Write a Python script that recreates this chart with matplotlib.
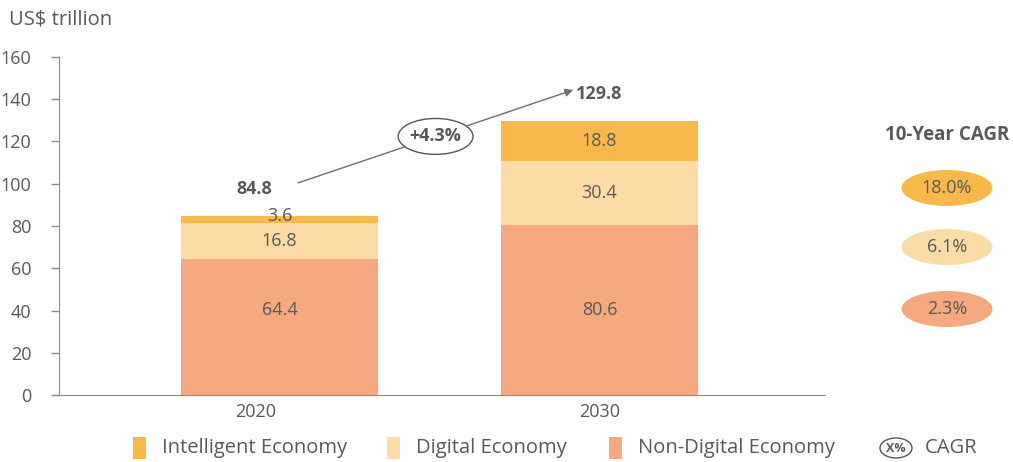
import numpy as np
import matplotlib
matplotlib.use("Agg")
import matplotlib.pyplot as plt
from matplotlib.patches import Ellipse, Rectangle

plt.rcParams['font.family'] = ['Open Sans', 'DejaVu Sans']

# data
years = ["2020", "2030"]
non_digital = [64.4, 80.6]
digital = [16.8, 30.4]
intelligent = [3.6, 18.8]
series_names = ["Intelligent Economy", "Digital Economy", "Non-Digital Economy"]
cagr_labels = ["18.0%", "6.1%", "2.3%"]
total_cagr = "+4.3%"

c_int = "#F9B84A"
c_dig = "#FCDCA6"
c_non = "#F6A97E"
txt = "#595959"
axc = "#8C8C99"

W, H = 1013, 462
fig = plt.figure(figsize=(W / 100, H / 100), dpi=100)
ax = fig.add_axes([59 / W, 1 - 395 / H, (825 - 59) / W, (395 - 57) / H])

x = np.arange(len(years))
bw = 0.615
ax.bar(x, non_digital, bw, color=c_non)
ax.bar(x, digital, bw, bottom=non_digital, color=c_dig)
bot2 = np.array(non_digital) + np.array(digital)
ax.bar(x, intelligent, bw, bottom=bot2, color=c_int)
totals = bot2 + np.array(intelligent)

ax.set_xlim(-0.689, 1.705)
ax.set_ylim(0, 160)
ax.set_yticks(range(0, 161, 20))
ax.set_xticks([-0.073, 1])
ax.set_xticklabels(years)
ax.tick_params(axis='y', colors=axc, labelcolor=txt, labelsize=13, length=6, width=1, pad=14)
ax.tick_params(axis='x', length=0, labelcolor=txt, labelsize=13, pad=6)
for s in ['top', 'right']:
    ax.spines[s].set_visible(False)
ax.spines['left'].set_color(axc)
ax.spines['bottom'].set_color(axc)
ax.spines['bottom'].set_bounds(-0.704, 1.705)

# segment labels
for i in range(2):
    ax.text(x[i], max(non_digital) / 2, f"{non_digital[i]}", ha='center', va='center', color=txt, fontsize=13)
    ax.text(x[i], non_digital[i] + digital[i] / 2, f"{digital[i]}", ha='center', va='center', color=txt, fontsize=13)
    yi = bot2[i] + intelligent[i] / 2
    if intelligent[i] < 8:
        yi += 1.5
    ax.text(x[i], yi, f"{intelligent[i]}", ha='center', va='center', color=txt, fontsize=13)

# totals + CAGR arrow
ax.text(x[0] - 0.08, totals[0] + 12.5, f"{totals[0]:.1f}", ha='center', va='center',
        color=txt, fontsize=13, fontweight='bold')
ax.text(x[1] - 0.072, totals[1] + 12.5, f"{totals[1]:.1f}", ha='left', va='center',
        color=txt, fontsize=13, fontweight='bold')
x0, y0 = x[0] + 0.058, totals[0] + 15.6
x1, y1 = x[1] - 0.082, totals[1] + 14.6
ax.annotate("", xy=(x1, y1), xytext=(x0, y0),
            arrowprops=dict(arrowstyle="-|>", color="#6E6E80", lw=1, mutation_scale=12,
                            shrinkA=0, shrinkB=0))
mx, my = (x0 + x1) / 2, (y0 + y1) / 2
ax.add_patch(Ellipse((mx, my), 0.234, 17, facecolor='white', edgecolor='#555555', lw=1, zorder=3))
ax.text(mx, my, total_cagr, ha='center', va='center', color=txt, fontsize=13,
        fontweight='bold', zorder=4)

# overlay in pixel coordinates
ov = fig.add_axes([0, 0, 1, 1], zorder=5)
ov.set_xlim(0, W)
ov.set_ylim(H, 0)
ov.axis('off')

ov.text(9, 19, "US$ trillion", ha='left', va='center', color=txt, fontsize=14.5)

ov.text(947, 135, "10-Year CAGR", ha='center', va='center', color=txt, fontsize=13.5, fontweight='bold')
for lab, col, yy in zip(cagr_labels, [c_int, c_dig, c_non], [188, 247, 309]):
    ov.add_patch(Ellipse((947, yy), 91, 36, facecolor=col, edgecolor='none'))
    ov.text(947, yy, lab, ha='center', va='center', color=txt, fontsize=13)

# legend
for name, col, sx in zip(series_names, [c_int, c_dig, c_non], [133, 387, 609]):
    ov.add_patch(Rectangle((sx, 437), 13, 22, facecolor=col, edgecolor='none'))
    ov.text(sx + 29, 448, name, ha='left', va='center', color=txt, fontsize=14.5)
ov.add_patch(Ellipse((896, 448), 32, 20, facecolor='white', edgecolor='#555555', lw=1))
ov.text(896, 448, "X%", ha='center', va='center', color=txt, fontsize=9, fontweight='bold')
ov.text(925, 448, "CAGR", ha='left', va='center', color=txt, fontsize=14.5)

fig.savefig("out.png", dpi=100)
